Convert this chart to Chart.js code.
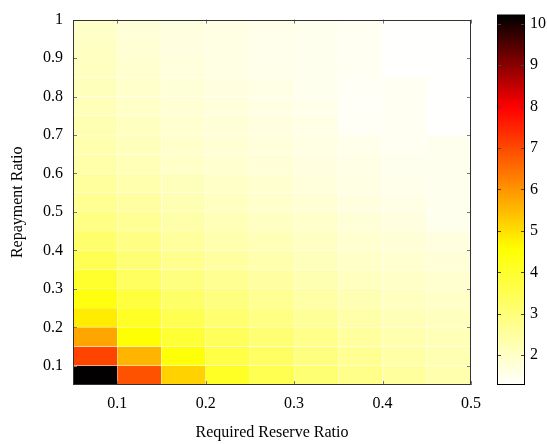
<!DOCTYPE html>
<html>
<head>
<meta charset="utf-8">
<script src="https://cdn.jsdelivr.net/npm/chart.js@4.4.0/dist/chart.umd.min.js"></script>
<style>
  html, body { margin: 0; padding: 0; background: #fff; }
  #wrap { position: relative; width: 547px; height: 444px; }
  #heat { position: absolute; left: 0; top: 0; }
  #bar { position: absolute; left: 480px; top: 0; }
</style>
</head>
<body>
<div id="wrap">
  <canvas id="heat" width="490" height="444"></canvas>
  <canvas id="bar" width="67" height="444"></canvas>
</div>
<script>
`use strict`

// bin centres of the grid
const reserveRatio = [0.075, 0.125, 0.175, 0.225, 0.275, 0.325, 0.375, 0.425, 0.475];
const repaymentRatio = [0.075, 0.125, 0.175, 0.225, 0.275, 0.325, 0.375, 0.425, 0.475,
  0.525, 0.575, 0.625, 0.675, 0.725, 0.775, 0.825, 0.875, 0.925, 0.975];

// cell values, one row per repayment ratio (bottom row first), one column per reserve ratio
const cellValues = [
  [10.2, 6.9, 5.2, 4.1, 3.55, 3.1, 2.8, 2.55, 2.35],   // 0.075
  [7.1, 5.6, 4.5, 3.7, 3.3, 2.95, 2.7, 2.45, 2.3],     // 0.125
  [5.8, 4.55, 3.9, 3.4, 3.1, 2.8, 2.55, 2.35, 2.2],    // 0.175
  [4.85, 4.1, 3.55, 3.15, 2.9, 2.6, 2.4, 2.2, 2.1],    // 0.225
  [4.4, 3.8, 3.25, 2.95, 2.7, 2.45, 2.25, 2.1, 2.0],   // 0.275
  [4.0, 3.35, 2.95, 2.7, 2.5, 2.3, 2.1, 2.0, 1.9],     // 0.325
  [3.55, 3.1, 2.75, 2.5, 2.35, 2.15, 2.0, 1.9, 1.8],   // 0.375
  [3.2, 2.85, 2.55, 2.35, 2.2, 2.05, 1.9, 1.8, 1.7],   // 0.425
  [2.9, 2.65, 2.4, 2.2, 2.05, 1.95, 1.8, 1.7, 1.5],    // 0.475
  [2.7, 2.5, 2.25, 2.1, 1.95, 1.85, 1.7, 1.6, 1.5],    // 0.525
  [2.55, 2.35, 2.15, 2.0, 1.9, 1.75, 1.65, 1.55, 1.5], // 0.575
  [2.4, 2.2, 2.0, 1.9, 1.8, 1.7, 1.6, 1.5, 1.5],       // 0.625
  [2.35, 2.15, 1.95, 1.85, 1.75, 1.65, 1.55, 1.45, 1.5], // 0.675
  [2.3, 2.1, 1.9, 1.8, 1.7, 1.6, 1.4, 1.45, 1.3],      // 0.725
  [2.2, 2.0, 1.85, 1.75, 1.65, 1.55, 1.4, 1.45, 1.3],  // 0.775
  [2.15, 1.95, 1.8, 1.7, 1.6, 1.5, 1.4, 1.45, 1.3],    // 0.825
  [2.1, 1.9, 1.75, 1.65, 1.55, 1.5, 1.45, 1.3, 1.3],   // 0.875
  [2.05, 1.85, 1.7, 1.65, 1.55, 1.5, 1.45, 1.3, 1.3],  // 0.925
  [2.0, 1.8, 1.7, 1.65, 1.55, 1.5, 1.45, 1.3, 1.3]     // 0.975
];

// tick labels
const xTicks = [0.1, 0.2, 0.3, 0.4, 0.5];
const yTicks = [0.1, 0.2, 0.3, 0.4, 0.5, 0.6, 0.7, 0.8, 0.9, 1];
const colorTicks = [2, 3, 4, 5, 6, 7, 8, 9, 10];
const colorRange = [1.28, 10.22];

const serif = { family: "'Liberation Serif', 'DejaVu Serif', serif", size: 16 };

// white -> yellow -> red -> black
function heatColor(v) {
  const stops = [[1.28, [255, 255, 255]], [4.6, [255, 255, 0]], [8, [255, 0, 0]], [10.22, [0, 0, 0]]];
  if (v <= stops[0][0]) return 'rgb(255,255,255)';
  for (let i = 1; i < stops.length; i++) {
    if (v <= stops[i][0]) {
      const a = stops[i - 1], b = stops[i];
      const t = (v - a[0]) / (b[0] - a[0]);
      const c = a[1].map((x, k) => Math.round(x + (b[1][k] - x) * t));
      return 'rgb(' + c.join(',') + ')';
    }
  }
  return 'rgb(0,0,0)';
}

function fmt(v) { return String(+(+v).toFixed(2)); }

//Draws box and inward ticks
function boxPlugin(xId, yId, xs, ys, color, tickColor) {
  return {
    id: 'box' + xId,
    afterDatasetsDraw(chart) {
      const { ctx, chartArea: a, scales } = chart;
      ctx.save();
      ctx.lineWidth = 1;
      ctx.strokeStyle = tickColor;
      ctx.beginPath();
      if (xs) xs.forEach(v => {
        const px = Math.round(scales[xId].getPixelForValue(v)) + 0.5;
        ctx.moveTo(px, a.bottom); ctx.lineTo(px, a.bottom - 4);
        ctx.moveTo(px, a.top); ctx.lineTo(px, a.top + 4);
      });
      ys.forEach(v => {
        const py = Math.round(scales[yId].getPixelForValue(v)) + 0.5;
        ctx.moveTo(a.left, py); ctx.lineTo(a.left + 4, py);
        ctx.moveTo(a.right, py); ctx.lineTo(a.right - 4, py);
      });
      ctx.stroke();
      ctx.strokeStyle = color;
      ctx.strokeRect(Math.round(a.left) + 0.5, Math.round(a.top) + 0.5,
        Math.round(a.right - a.left) - 1, Math.round(a.bottom - a.top) - 1);
      ctx.restore();
    }
  };
}

const heatDatasets = repaymentRatio.map((y, r) => ({
  data: reserveRatio.map(() => [y - 0.025, y + 0.025]),
  backgroundColor: cellValues[r].map(heatColor),
  borderColor: 'rgba(255,255,255,0.18)',
  borderWidth: 0.5,
  borderSkipped: false,
  barPercentage: 1,
  categoryPercentage: 1,
  grouped: false,
  xAxisID: 'x',
  yAxisID: 'y'
}));

new Chart(document.getElementById('heat'), {
  type: 'bar',
  data: { labels: reserveRatio.map(String), datasets: heatDatasets },
  options: {
    responsive: false,
    animation: false,
    events: [],
    layout: { padding: { left: 8, right: 16, top: 12, bottom: 0 } },
    plugins: { legend: { display: false }, tooltip: { enabled: false } },
    scales: {
      x: { type: 'category', display: false, offset: true },
      xr: {
        type: 'linear', position: 'bottom', min: 0.05, max: 0.5, offset: false,
        afterBuildTicks: s => { s.ticks = xTicks.map(v => ({ value: v })); },
        afterFit: s => { s.height = 59; },
        grid: { display: false, drawTicks: false, offset: false },
        border: { display: false },
        ticks: { padding: 9, color: '#000', font: serif, maxRotation: 0, autoSkip: false, callback: v => fmt(v) },
        title: { display: true, text: 'Required Reserve Ratio', color: '#000', font: serif, padding: { top: 0, bottom: 2 } }
      },
      y: {
        type: 'linear', position: 'left', min: 0.05, max: 1, offset: false,
        afterBuildTicks: s => { s.ticks = yTicks.map(v => ({ value: v })); },
        afterFit: s => { s.width = 65; },
        grid: { display: false, drawTicks: false },
        border: { display: false },
        ticks: { padding: 10, color: '#000', font: serif, autoSkip: false, callback: v => fmt(v) },
        title: { display: true, text: 'Repayment Ratio', color: '#000', font: serif, padding: { top: 0, bottom: 0 } }
      }
    }
  },
  plugins: [boxPlugin('xr', 'y', xTicks, yTicks, '#333', '#777')]
});

// colour bar
const steps = [];
const stepColors = [];
for (let i = 0; i < 150; i++) {
  const v = colorRange[0] + (colorRange[1] - colorRange[0]) * (i + 0.5) / 150;
  steps.push(v.toFixed(3));
  stepColors.push(heatColor(v));
}

new Chart(document.getElementById('bar'), {
  type: 'bar',
  data: {
    labels: steps,
    datasets: [{
      data: steps.map(() => 1),
      backgroundColor: stepColors,
      borderWidth: 0,
      barPercentage: 1,
      categoryPercentage: 1,
      inflateAmount: 1,
      xAxisID: 'cx',
      yAxisID: 'cy'
    }]
  },
  options: {
    indexAxis: 'y',
    responsive: false,
    animation: false,
    events: [],
    layout: { padding: { left: 17, right: 0, top: 12, bottom: 59 } },
    plugins: { legend: { display: false }, tooltip: { enabled: false } },
    scales: {
      cx: { type: 'linear', axis: 'x', min: 0, max: 1, display: false, offset: false },
      cy: { type: 'category', axis: 'y', display: false, reverse: true, offset: true },
      cv: {
        type: 'linear', axis: 'y', position: 'right', min: colorRange[0], max: colorRange[1], offset: false,
        afterBuildTicks: s => { s.ticks = colorTicks.map(v => ({ value: v })); },
        afterFit: s => { s.width = 22; },
        grid: { display: false, drawTicks: false, offset: false },
        border: { display: false },
        ticks: { padding: 5, color: '#000', font: serif, autoSkip: false, callback: v => fmt(v) }
      }
    }
  },
  plugins: [boxPlugin('cx', 'cv', null, colorTicks, '#000', '#444')]
});
</script>
</body>
</html>
